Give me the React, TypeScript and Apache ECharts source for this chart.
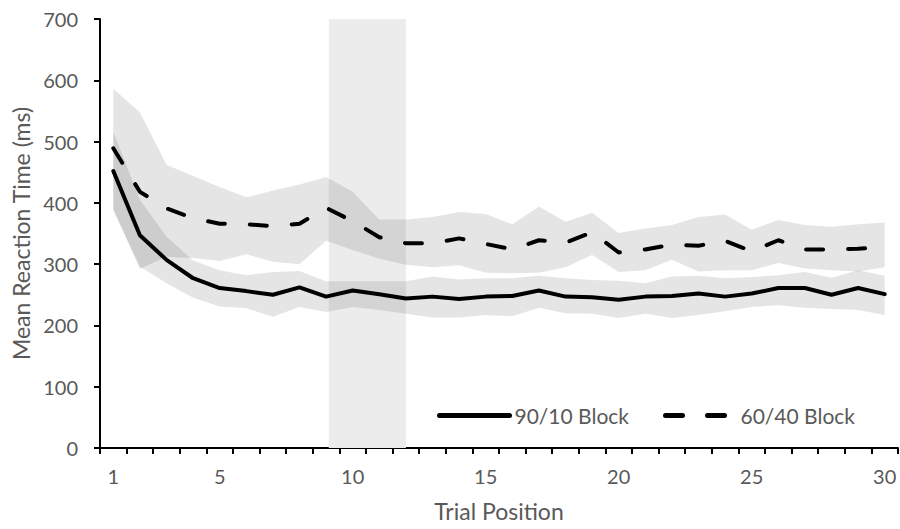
import React, { useEffect, useRef } from "react";
import * as echarts from "echarts";

const trialLabels = ["1","2","3","4","5","6","7","8","9","10","11","12","13","14","15","16","17","18","19","20","21","22","23","24","25","26","27","28","29","30"];
const shownLabels = ["1", "5", "10", "15", "20", "25", "30"];

const rt9010 = [452, 347, 307, 277, 261, 256, 250, 262, 247, 257, 251, 244, 247, 243, 247, 248, 257, 247, 246, 242, 247, 248, 252, 247, 252, 261, 261, 250, 261, 251];
const rt9010Upper = [516, 405, 345, 306, 290, 282, 287, 289, 272, 272, 272, 272, 280, 275, 277, 277, 281, 277, 274, 273, 269, 280, 281, 277, 279, 282, 287, 278, 290, 281];
const rt9010Lower = [388, 296, 269, 245, 231, 228, 214, 230, 222, 230, 225, 219, 213, 213, 217, 215, 229, 220, 219, 212, 219, 212, 217, 223, 230, 233, 229, 227, 225, 217];

const rt6040 = [489, 418, 391, 375, 366, 365, 362, 366, 392, 370, 344, 334, 334, 342, 333, 324, 339, 335, 352, 319, 324, 332, 330, 338, 321, 339, 324, 324, 325, 328];
const rt6040Upper = [586, 548, 462, 444, 426, 409, 420, 430, 442, 418, 373, 373, 377, 385, 382, 365, 394, 369, 384, 351, 358, 364, 377, 381, 356, 372, 364, 361, 365, 368];
const rt6040Lower = [390, 292, 312, 310, 305, 316, 304, 300, 338, 323, 309, 299, 295, 298, 286, 285, 286, 295, 315, 287, 290, 307, 288, 290, 290, 302, 293, 290, 288, 295];

const highlightRange = [9.1, 12];

const seriesNames = ["90/10 Block", "60/40 Block"];

const FONT = "Lato";
const TEXT = "#595959";
const BAND = "rgba(0,0,0,0.1)";

export default function App() {
  const ref = useRef<HTMLDivElement>(null);

  useEffect(() => {
    document.body.style.margin = "0";
    const chart = echarts.init(ref.current as HTMLDivElement, undefined, { renderer: "svg" });

    const bandPair = (stack: string, lower: number[], upper: number[]) => [
      {
        type: "line",
        stack,
        data: lower,
        symbol: "none",
        lineStyle: { opacity: 0 },
        silent: true,
        z: 2,
      },
      {
        type: "line",
        stack,
        data: upper.map((u, i) => u - lower[i]),
        symbol: "none",
        lineStyle: { opacity: 0 },
        areaStyle: { color: BAND, opacity: 1 },
        silent: true,
        z: 2,
      },
    ];

    chart.setOption({
      animation: false,
      textStyle: { fontFamily: FONT },
      grid: {
        left: 100,
        right: 2,
        top: 19,
        bottom: 81,
        containLabel: false,
        outerBoundsMode: "none",
      },
      legend: {
        data: seriesNames,
        left: 432,
        top: 400,
        itemWidth: 70,
        itemHeight: 20,
        itemGap: 34,
        itemStyle: { opacity: 0, color: "rgba(0,0,0,0)", borderWidth: 0 },
        lineStyle: { width: 5, cap: "round" },
        textStyle: { fontFamily: FONT, fontSize: 21, color: TEXT },
      },
      xAxis: [
        {
          type: "category",
          data: trialLabels,
          boundaryGap: true,
          name: "Trial Position",
          nameLocation: "middle",
          nameGap: 51,
          nameTextStyle: { fontFamily: FONT, fontSize: 23, color: TEXT },
          axisLine: { lineStyle: { color: "#000", width: 2 } },
          axisTick: { show: true, interval: 0, length: 6, lineStyle: { color: "#000", width: 2 } },
          axisLabel: {
            interval: (_i: number, v: string) => shownLabels.includes(v),
            margin: 18,
            fontFamily: FONT,
            fontSize: 20,
            color: TEXT,
          },
          splitLine: { show: false },
        },
        {
          type: "value",
          min: 0.5,
          max: 30.5,
          show: false,
        },
      ],
      yAxis: {
        type: "value",
        min: 0,
        max: 700,
        interval: 100,
        name: "Mean Reaction Time (ms)",
        nameLocation: "middle",
        nameGap: 66,
        nameTextStyle: { fontFamily: FONT, fontSize: 23, color: TEXT },
        axisLine: { show: true, lineStyle: { color: "#000", width: 2 } },
        axisTick: { show: true, length: 6, lineStyle: { color: "#000", width: 2 } },
        axisLabel: { margin: 22, fontFamily: FONT, fontSize: 20, color: TEXT },
        splitLine: { show: false },
      },
      series: [
        {
          type: "line",
          xAxisIndex: 1,
          data: [],
          z: 1,
          silent: true,
          markArea: {
            silent: true,
            itemStyle: { color: "#ececec" },
            data: [[{ xAxis: highlightRange[0] }, { xAxis: highlightRange[1] }]],
          },
        },
        ...bandPair("b9010", rt9010Lower, rt9010Upper),
        ...bandPair("b6040", rt6040Lower, rt6040Upper),
        {
          name: seriesNames[0],
          type: "line",
          data: rt9010,
          symbol: "none",
          z: 5,
          lineStyle: { color: "#000", width: 4, cap: "round", join: "round" },
          itemStyle: { color: "#000" },
        },
        {
          name: seriesNames[1],
          type: "line",
          data: rt6040,
          symbol: "none",
          z: 5,
          lineStyle: { color: "#000", width: 4, type: [17, 25], cap: "round", join: "round" },
          itemStyle: { color: "#000" },
        },
      ],
    });

    return () => chart.dispose();
  }, []);

  return <div ref={ref} style={{ width: 900, height: 529 }} />;
}
